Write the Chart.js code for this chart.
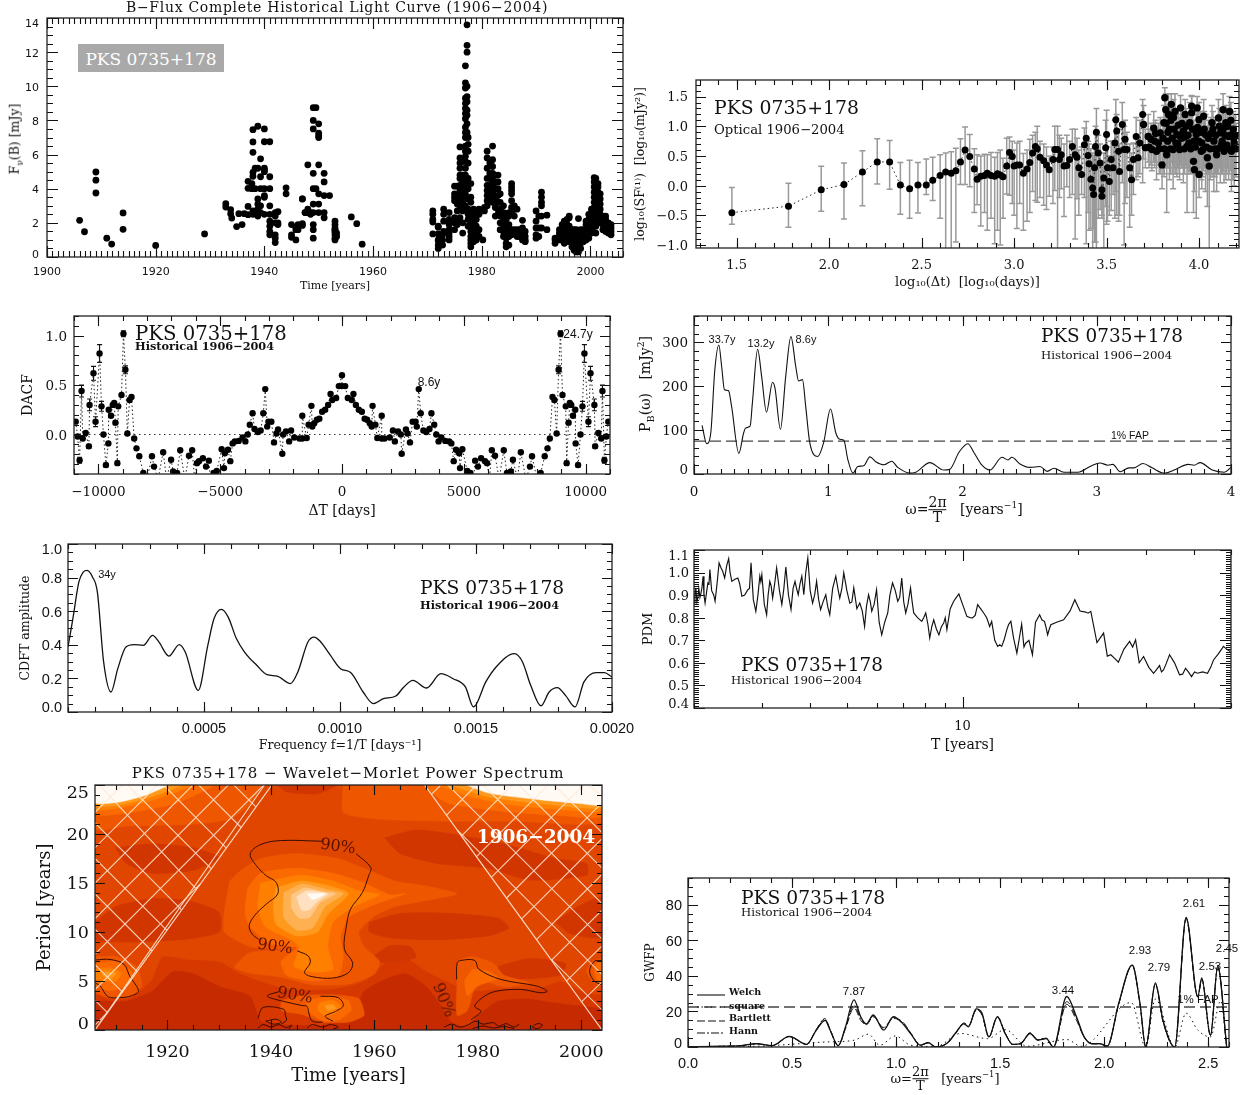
<!DOCTYPE html>
<html><head><meta charset="utf-8">
<script src="https://cdn.jsdelivr.net/npm/chart.js@4"></script>
<style>
html,body{margin:0;padding:0;background:#fff;width:1248px;height:1095px;overflow:hidden}
#page{position:relative;width:1248px;height:1095px}
canvas{position:absolute}
.n{position:absolute;white-space:nowrap;color:#111;font-family:"DejaVu Serif",serif;line-height:1;transform-origin:center}
.n sub{font-size:70%;line-height:0}.n sup{font-size:65%;line-height:0}
.frac{display:inline-block;vertical-align:middle;text-align:center;line-height:1.02}
.frac span{display:block}.frac span:first-child{border-bottom:1px solid #111}
svg.ls{position:absolute;width:28px;height:3px;overflow:visible}
</style></head><body><div id="page"></div>
<script>
/* ---------- light curve: [year, flux, flux, ...] ---------- */
const lightCurve=[
[1906,2.15],[1906.9,1.48],[1909,4.98,4.5,3.75],[1911,1.1],[1911.9,.76],[1914,2.58,1.62],[1920,.68],[1929,1.35],
[1932.9,3.12,2.93],[1933.8,2.77,2.53],[1934,2.28],[1934.9,1.78],[1935.3,2.54],[1935.9,1.9],[1936.3,2.54],[1937,4.43,4.02,2.96,2.48],
[1937.7,4.3,4],[1937.9,7.46,6.74,6.13,4.96,4.73,4.0,2.7,2.5],[1938.3,5.2,4],[1938.8,7.66,5.2,3.4,3.1,2.8,2.6,2.4],[1939.3,5.75,4.7,4,3,2.6],[1940,7.5,6.75,5.2,5.1,5,4,3.6,3.5,2.5],
[1941,6.75,4.7,4,3,2.5,2.1,1.8,1.5,1.3],[1942,2.6,2.4,2,1.3,1.1,.85],[1942.5,2.65,2,1.9],[1944,4.05,3.7],[1945,1.9,1.3,1.15],[1945.8,1,1.6,1.75],[1946.2,1.9,1.6],
[1947,3.4,3.4,1.85,1.95],[1947.5,2.6,2.6],[1948,5.4,2.8,2.6],[1948.5,2.6,2.5],[1949,8.75,8,7.5,4.9,4,3.1,2.6,1.9,1.6,1.1],[1949.5,8.75,4],[1950,7.8,7.25,7.1,7,5.4,3.7,3.1,2.6],
[1951,4.9,4.4,3.6,2.6,2.3],[1952,3.6],[1953,2.1,1.9,1.7,1.55,1.45,1.3,1.1,1,1.6],[1953.3,1.4,1.2],[1956,2.35],[1957,1.95],[1958,.75],
[1971,2.7,2.5,2.2,2.05,1.35],[1972,.5,.7,.95,1,1.35,1.75,1.8],[1972.8,1,.7,1.3],[1973,1.5,2.1,2.5,2.8],[1974,1,1.2,1.4,1.6,1.9,2.2,2.6],
[1975,1.6,2,2.3,3.3,3.5,3.7,4.15],[1975.5,1.9,2.2,2.7,3.1,3.6,3.4,4.15],[1976,2.3,3,3.4,3.6,3.9,4.2,4.6,4.8,5.2,5.5,5.8,6.45],[1976.5,1.4,2,2.7,3,3.2,3.5,3.8,4.1,4.5,4.8,5.6],
[1977,2.8,3,3.4,3.7,4,4.4,4.8,5.2,5.6,5.9,6.2,6.5,7,7.3,7.6,8.1,8.4,8.7,9,9.3,9.9,10.2,11.2],[1977.3,7.3,7.8,8.3,8.6,9.1,9.4,10,12,12.4,13.6],[1977.5,1.8,2.2,2.5,2.8,3.4,4,4.3,4.6,5.5,6.2,6.6,7],
[1978,.6,.8,1,1.2,1.5,1.8,2,2.3,2.7,3.2,3.5,4.3],[1978.5,.9,1.2,1.6,2,2.4,2.8],[1979,1,1.4,1.8,2.2,2.7],[1979.5,1.2,1.6,2.5,2.8],[1980.2,1],[1980.5,2.7,2.9],
[1981,3,3.3,3.6,3.9,4.2,4.6,5.2,5.8,6.2],[1981.5,3.4,3.6,3.9,4.2,4.6,4.9,5.5],[1982,3.2,3.5,3.8,4.2,4.5,4.9,5.3,5.7,6.5],[1982.5,2.4,2.9,3.3,3.6,4,4.4,4.8],[1983,2.5,2.8,3.2,3.6,4,4.4,4.8],
[1983.4,1.6,2,2.4,2.8,3.2,3.7],[1984,1.2,1.5,1.9,2.3,2.6,3],[1984.5,.6,.8,1.1,1.4,1.8,2.2,2.5],[1985,.7,1.2,1.5,1.9,2.4,2.6],[1985.5,1.3,1.6,2.6,2.9,3.3,3.7,3.9,4.1,4.3],[1986,1.6,2.4,2.8,3],
[1986.5,1.2,1.4,1.6,2.8],[1987,1.2,1.4,1.6],[1987.5,1,1.2,1.4,1.7,2.15],[1988,.9,1,1.2,1.5],[1990,1.1,1.3,1.7,2.1,2.7],[1990.5,1.2,1.7,2.4],[1991,1.7,2.4,3,3.2,3.5,3.8],[1992,1.6,2.45],[1993.5,.8,1,1.1],
[1994.3,1,1.2,1.4,1.6],[1994.8,1,1.3,1.5,1.7,1.9],[1995.2,.8,1.1,1.4,1.6,1.8,2.1],[1995.7,1,1.2,1.5,1.9,2.2],[1996.1,.9,1.2,1.5,1.8,2.3,2.4],[1996.6,.6,.8,1,1.2,1.4,1.6],
[1997,.4,.6,.8,1,1.2,1.4,1.6],[1997.4,.3,.5,.7,.9,1.1,1.3,1.6],[1997.8,.3,.5,.7,.9,1.1,1.4,2.25],[1998.2,.5,.8,1,1.3,1.6],[1998.7,.9,1.1,1.4,1.6],[1999.2,1,1.3,1.6,1.9,2.1],[1999.7,1.1,1.4,1.8,2.2,2.5],
[2000.2,1.4,1.7,2,2.3,2.6,2.8],[2000.7,1.8,2,2.3,2.6,2.9,3.2,3.5,3.8,4.1,4.4,4.65],[2001,1.4,1.8,2.2,2.5,2.8,3.1,3.4,3.7,4,4.3,4.6],[2001.4,2,2.3,2.6,2.9,3.2,3.5,3.8,4.1,4.3],[2001.8,2,2.2,2.5,2.8,3.1,3.4,3.7],
[2002.3,1.6,1.9,2.1,2.4],[2002.8,1.5,1.7,1.9,2.2,2.4],[2003.3,1.4,1.6,1.8,2],[2003.8,1.3,1.5,1.7,1.9]];

/* ---------- structure function: [log dt, log SF, upper, lower] ---------- */
const structureFn=[
[1.474,-.455,-.03,-.65],[1.78,-.345,.04,-.7],[1.957,-.07,.325,-.43],[2.08,.02,.38,-.56],[2.18,.23,.59,-.34],[2.26,.4,.79,.03],[2.327,.4,.76,-.06],[2.385,.01,.39,-.48],[2.435,-.05,.43,-.55],[2.48,.01,.39,-.46],[2.525,.01,.45,-.15],[2.56,.09,.48,-.25],[2.6,.17,.52,-.55],[2.63,.23,.55,-1.2],[2.66,.21,.57,-1.2],[2.685,.25,.63,-.95],[2.71,.4,.79,.02],[2.735,.6,.99,.02],[2.76,.49,.86,-.02],[2.785,.28,.62,-.45],[2.8,.11,.52,-.32],
[2.82,.16,.5,-.68],[2.84,.17,.53,-.45],[2.855,.21,.52,-.75],[2.875,.17,.56,-.55],[2.895,.16,.48,-.98],[2.91,.2,.56,-.75],[2.925,.18,.6,-1.0],[2.94,.15,.46,-.55],[2.96,.33,.8,-.14],[2.975,.56,.82,-.16],[2.99,.49,.75,-.3],[3.0,.33,.6,-.5],[3.015,.35,.72,-.72],[3.03,.35,.75,-.3],[3.05,.21,.54,-.75],[3.07,.28,.6,-.6],[3.085,.39,.78,-.45],
[3.10,.55,.85,-.1],[3.115,.66,.9,-.25],[3.125,.62,1.0,-.28],[3.14,.48,.75,-.2],[3.16,.42,.7,-.33],[3.175,.35,.65,-.4],[3.19,.27,.5,-.18],[3.21,.44,.65,-.3],[3.22,.61,1.0,-.08],[3.235,.61,1.0,-1.1],[3.245,.44,.85,-.2],[3.255,.52,.8,-.05],[3.27,.33,.7,-.52],[3.285,.34,.85,-.02],[3.30,.44,.75,-.2],[3.315,.66,.95,-.15],[3.33,.52,.95,-.9],[3.34,.48,.8,-.22],[3.35,.30,.6,-.5],[3.365,.19,.65,-.15],[3.38,.69,.97,-.2],[3.39,.80,1.08,-.98],[3.40,.51,.75,-.45],[3.405,.37,.7,-.75],[3.415,.11,.62,-.72],[3.425,-.04,.55,-1.1],[3.43,-.15,.5,-.72],[3.435,.30,.65,-.95],[3.44,.66,1.0,-.95],[3.445,.90,1.3,-1.2],[3.455,.55,.85,-.55],[3.465,.38,.7,-.4],[3.475,-.07,.4,-.5],[3.475,-.18,.3,-.55],[3.485,.13,.55,-1.05],[3.495,.64,1.1,-.35],[3.50,.86,1.27,-.65],[3.505,.30,.65,-.6],[3.515,.07,.5,-.5],[3.525,.44,.75,-.42],[3.535,.30,.75,-.15],[3.545,.72,1.1,-.55],[3.55,1.11,1.45,-.1],[3.555,.92,1.2,-.5],[3.565,.58,.95,-.6],[3.57,.24,.7,-.5],[3.585,1.03,1.4,.05],[3.595,.61,1.0,-1.0],[3.60,.78,1.1,-.3],[3.61,.61,.9,-.2],[3.625,.30,.7,-.7],[3.635,.10,.55,-.5],[3.645,.44,.72,-.15],[3.66,.83,1.15,.1],[3.67,.47,.8,.15],[3.68,.72,1.1,.2],[3.695,1.20,1.45,.05],[3.70,1.03,1.35,.45],[3.71,.64,.95,.3],[3.725,.83,1.2,.4],[3.745,.61,.95,.25],[3.755,.97,1.25,.4],[3.77,.58,.95,.1],[3.79,.89,1.15,.2],[3.80,.35,.7,-.05],[3.81,1.06,1.35,.15],[3.815,1.48,1.65,.45],[3.82,1.28,1.55,.6],[3.825,.52,.9,-.45],[3.835,1.20,1.55,.55],[3.84,.95,1.3,.1],[3.85,1.37,1.55,.6],[3.86,.61,.95,-.05],[3.87,1.25,1.55,.2],[3.88,.86,1.2,.15],[3.895,.61,1.0,.1],[3.90,1.31,1.52,.35],[3.915,.92,1.2,.05],[3.925,1.20,1.45,.35],[3.935,.66,1.05,-.45],[3.95,1.06,1.4,.25],[3.96,1.34,1.52,.5],[3.96,1.23,1.5,.4],[3.97,.41,.8,-.45],[3.975,.27,.7,-.1],[3.985,.86,1.2,-.55],[3.99,1.31,1.5,.4],[4.0,1.11,1.4,.3],[4.0,.19,.7,-.2],[4.015,.72,1.05,-.05],[4.025,1.17,1.45,.25],[4.035,.86,1.2,-.1],[4.045,.47,.8,-.35],[4.055,.33,.75,-1.1],[4.07,1.06,1.35,.15],[4.08,.75,1.1,-.1],[4.095,.52,.9,-.1],[4.105,1.14,1.45,.2],[4.115,.89,1.2,.05],[4.13,1.28,1.55,.55],[4.135,.58,.95,.05],[4.145,1.06,1.35,.1],[4.16,.83,1.15,.1],[4.165,1.25,1.5,.6],[4.175,.58,1.0,-.1],[4.185,.95,1.25,.1],[4.19,.72,1.1,0],
[3.73,.65,.95,.3],[3.74,.78,1.05,.35],[3.76,.75,1.05,.3],[3.765,.88,1.1,.4],[3.78,.72,1.05,.35],[3.785,.62,.95,.2],[3.805,.8,1.1,.3],[3.812,.62,1.0,.2],[3.822,1.05,1.35,.4],[3.83,.75,1.1,.3],[3.832,.9,1.25,.3],[3.845,.62,.95,.2],[3.848,1.1,1.4,.4],[3.855,.8,1.1,.2],[3.862,1.15,1.45,.4],[3.865,.95,1.2,.3],[3.875,.72,1.05,.2],[3.885,.7,1.05,.3],[3.888,1.02,1.3,.3],[3.892,.85,1.15,.2],[3.905,.8,1.1,.3],[3.908,1.05,1.3,.3],[3.92,.62,.95,.2],[3.922,.82,1.1,.2],[3.93,1.0,1.3,.3],[3.94,.85,1.15,.3],[3.945,.72,1.05,.2],[3.955,.62,1.0,.2],[3.965,.95,1.25,.3],[3.972,.75,1.1,.25],[3.98,.65,1.0,.2],[3.992,.98,1.25,.3],[3.998,.75,1.1,.25],[4.01,.9,1.25,.3],[4.012,.58,.95,.1],[4.02,.6,.95,.15],[4.028,.95,1.25,.3],[4.04,.65,1.0,.2],[4.05,.8,1.1,.2],[4.06,.62,1.0,.1],[4.065,.88,1.15,.2],[4.075,.95,1.25,.3],[4.085,.62,1.0,.15],[4.09,.85,1.15,.2],[4.1,.62,1.0,.2],[4.11,1.0,1.3,.3],[4.12,.68,1.05,.2],[4.125,.75,1.1,.2],[4.13,.95,1.25,.25],[4.14,.85,1.2,.3],[4.15,.68,1.05,.2],[4.155,1.0,1.3,.3],[4.162,.62,1.0,.2],[4.17,.85,1.15,.25],[4.172,1.1,1.4,.5],[4.18,.62,1.0,.1],[4.188,.8,1.15,.2],[4.195,.85,1.2,.15],[4.2,.62,1.05,.15]];

/* ---------- DACF, positive lags: [lag, dacf, error] (symmetric about zero) ---------- */
const dacfLags=[
[130,.49,0],[240,.37,0],[400,.35,0],[470,.41,0],[570,.3,0],[690,.25,0],[815,.23,0],[930,.16,0],[1030,.15,0],[1140,.115,0],[1220,.08,0],[1255,.29,0],[1370,.1,0],[1450,-.035,0],[1630,.19,0],[1630,-.04,0],[1745,-.04,0],[1960,-.03,0],[2090,.04,0],[2170,-.07,0],[2300,.03,0],[2415,0,0],[2450,-.195,0],[2625,.05,0],[2690,.01,0],[2790,-.08,0],[2900,.13,0],[3020,.13,0],[3070,.08,0],[3150,.46,0],[3230,.215,0],[3340,.04,0],[3460,.025,0],[3590,.055,0],[3670,.215,0],[3785,.1,0],[3870,0,0],[3965,-.07,0],[4080,-.03,0],[4240,-.065,0],[4400,-.07,0],[4490,-.09,0],[4585,-.27,0],[4680,-.155,0],[4810,-.19,0],[4845,-.34,0],[4940,-.15,0],[5140,-.37,0],[5270,-.39,0],[5400,-.45,0],[5465,-.265,0],[5580,-.325,0],[5710,-.24,0],[5870,-.27,0],[5955,-.29,0],[6050,-.45,0],[6150,-.16,0],[6280,-.215,0],[6450,-.45,0],[6640,-.16,0],[6770,-.39,0],[6930,-.375,0],[7015,-.255,0],[7200,-.45,0],[7340,-.18,0],[7550,-.45,0],[7715,-.325,0],[7800,-.22,0],[8000,-.45,0],[8155,-.39,0],[8320,-.22,0],[8435,-.14,0],[8530,-.04,0],[8640,.38,.01],[8720,.35,.01],[8810,.01,0],[8890,.655,.04],[8970,1.02,.03],[9050,.4,0],[9185,.285,0],[9220,-.29,.02],[9300,.12,.02],[9350,.32,0],[9410,.3,0],[9480,.19,0],[9575,.25,0],[9590,-.09,0],[9690,-.31,.02],[9790,0,0],[9870,.285,.05],[9950,.82,.09],[10115,.13,.05],[10200,.62,.07],[10360,.3,.06],[10390,-.12,.02],[10520,.015,0],[10640,-.04,0],[10690,.44,.06],[10770,-.26,.03],[10850,-.02,0],[10930,.13,0]];
const dacfZeroLag=[[0,.6,0],[0,.49,0]];

/* ---------- periodogram ---------- */
const pgOmega=[.06,.095,.125,.155,.185,.206,.227,.257,.28,.334,.37,.385,.418,.435,.474,.504,.54,.585,.603,.644,.683,.722,.758,.779,.808,.832,.862,.922,.966,1.017,1.056,1.086,1.116,1.145,1.184,1.22,1.265,1.31,1.354,1.414,1.473,1.518,1.608,1.652,1.757,1.861,1.906,1.975,2.04,2.085,2.145,2.204,2.294,2.339,2.368,2.428,2.503,2.577,2.631,2.682,2.756,2.861,2.95,3.025,3.084,3.12,3.174,3.24,3.278,3.344,3.412,3.502,3.591,3.681,3.726,3.77,3.86,3.95,4];
const pgPower=[111,69,94,237,294,245,192,190,154,47,94,105,109,162,284,222,141,209,196,102,222,313,245,212,215,154,72,40,72,148,94,79,77,34,2,17,19,39,28,21,29,15,2,4,26,9,11,50,69,49,20,9,38,32,38,23,15,17,6,13,4,4,17,25,20,22,5,14,14,24,14,2,11,22,20,26,9,4,15];
const pgFap=75;

/* ---------- CDFT ---------- */
const cdftFreq=[0,.000018,.00004,.000056,.00007,.00009,.000108,.000131,.000158,.000183,.000213,.000243,.000277,.000311,.000334,.000371,.000409,.000431,.000479,.000514,.000537,.000564,.000589,.000619,.000649,.000694,.000732,.000769,.000818,.000845,.000882,.000905,.000927,.000965,.001002,.00104,.001085,.001123,.00116,.001205,.001235,.001268,.001318,.001371,.001416,.001461,.001491,.001536,.001574,.001641,.001671,.001701,.001739,.001769,.001799,.001829,.001864,.001897,.001942,.001972,.002];
const cdftAmp=[.387,.556,.774,.833,.843,.804,.714,.298,.119,.258,.387,.401,.397,.456,.417,.333,.401,.357,.129,.397,.556,.611,.565,.437,.357,.278,.222,.214,.169,.238,.417,.446,.421,.337,.258,.234,.119,.05,.079,.095,.149,.188,.143,.228,.198,.149,.03,.179,.268,.347,.298,.159,.036,.119,.145,.099,.03,.179,.234,.234,.208];

/* ---------- PDM ---------- */
const pdmLogT=[.3018,.3059,.3111,.3184,.3247,.3299,.3372,.3424,.3559,.3663,.3757,.3809,.3913,.3996,.4152,.4256,.4412,.4495,.462,.4724,.4776,.4901,.4984,.5057,.5161,.5297,.5401,.5536,.564,.5723,.5817,.5869,.5973,.6098,.6202,.6306,.6441,.6545,.6701,.6805,.6909,.7066,.717,.7326,.7451,.7555,.7638,.7763,.7898,.8054,.8179,.8314,.8418,.8522,.8647,.873,.8939,.9043,.9147,.9251,.9386,.9511,.9594,.9771,.9906,1.0114,1.026,1.0395,1.0552,1.0708,1.076,1.0916,1.102,1.1155,1.1259,1.1415,1.154,1.1644,1.1821,1.2008,1.2133,1.2216,1.23,1.2633,1.2924,1.3205,1.334,1.3673,1.3861,1.4058,1.435,1.4506,1.4714,1.4974,1.513,1.5234,1.539,1.565,1.5806,1.5963,1.6119,1.6379,1.6535,1.6795,1.6972];
const pdmTheta=[.865,.932,.887,.902,.984,.865,.954,1.013,.873,1.043,1.006,.976,1.062,.961,.976,.895,.924,1.043,.828,.984,.991,.813,.961,.887,1.021,.858,1.025,.836,.961,.902,.984,.902,1.065,.865,.961,.836,.902,.813,.984,.887,.999,.865,.932,.865,.761,.902,.828,.924,.724,.821,.954,.873,.976,.821,.932,.821,.784,.821,.71,.791,.724,.776,.747,.873,.905,.806,.799,.858,.821,.761,.784,.673,.673,.747,.784,.643,.772,.687,.636,.813,.784,.724,.769,.791,.88,.825,.828,.732,.636,.603,.695,.702,.628,.554,.588,.569,.636,.547,.576,.539,.554,.554,.613,.673,.65];
const pdmLogTFine=[.3035,.3085,.3135,.3165,.3215,.327,.3335,.34,.347,.3525,.361,.3715,.3785,.386,.395,.4075,.42,.433,.4455,.4555,.4675,.475,.484,.494,.502,.511,.5235,.535,.547,.559,.568,.577,.5845,.592,.6035,.615,.6255,.637,.649,.662,.6755,.686,.699,.712,.725,.739,.75,.76,.77,.783,.7975,.811,.825,.8365,.847,.858,.869,.883,.899,.91,.92,.932,.945,.955,.968,.984,1.0,1.02,1.033,1.047,1.063,1.084,1.097,1.108,1.12,1.133,1.148,1.16,1.173,1.19,1.207,1.217,1.226,1.245,1.28,1.306,1.327,1.35,1.377,1.396,1.42,1.443,1.46,1.485,1.505,1.518,1.531,1.552,1.573,1.588,1.604,1.625,1.646,1.666,1.688];
const pdmThetaFine=[.90,.87,.93,.89,.93,.90,.91,.95,.92,.90,.95,1.02,.99,1.03,1.0,.97,.95,.90,.93,.88,.90,.96,.86,.90,.94,.95,.92,.93,.90,.93,.93,.95,.94,1.0,.92,.90,.88,.87,.85,.93,.93,.93,.92,.87,.84,.83,.85,.87,.86,.78,.78,.90,.92,.89,.87,.86,.87,.80,.80,.77,.76,.75,.76,.80,.84,.89,.86,.80,.81,.84,.80,.70,.68,.70,.77,.71,.71,.67,.70,.78,.79,.76,.75,.78,.83,.83,.82,.69,.63,.62,.66,.67,.60,.58,.57,.56,.60,.60,.55,.56,.56,.56,.58,.64,.66];

/* ---------- wavelet power: filled contour outlines [year, period] ---------- */
const wvField=[[1906,0],[2004,0],[2004,25.1],[1906,25.1]];
const wvLevel1=[[1906,3],[1912,3],[1917,4],[1921,6],[1925,5.8],[1930,4.5],[1936,3.5],[1938,1],[1940,.6],[1946,.5],[1950,.5],[1956,2],[1958,4],[1962,5.2],[1966,5.8],[1970,4.5],[1973,2.5],[1975,.8],[1978,.4],[1980,1.5],[1984,3],[1990,3.2],[1995,2.8],[2000,2.5],[2004,2.5],[2004,25.1],[1906,25.1]];
const wvLevel2=[[1906,3.6],[1914,3.8],[1917,5.2],[1919,7.5],[1924,7.2],[1930,7],[1934,5.8],[1938,5],[1943,4.2],[1952,4.2],[1958,5],[1962,6.8],[1966,7.4],[1970,6],[1974,5],[1978,4],[1984,4.2],[1992,4.3],[1996,5],[2000,4],[2004,3.8],[2004,25.1],[1906,25.1]];
const wvDark=[
[[1910,18.6],[1917,19],[1925,18.6],[1930,17.6],[1925,16.3],[1917,16],[1912,17]],
[[1906,11],[1910,12.6],[1917,13.4],[1924,13.2],[1930,12],[1930,10],[1924,9.3],[1915,9],[1906,9.2]],
[[1937,7.4],[1941,7.6],[1944,7.2],[1943,6.8],[1939,6.7],[1937,7]],
[[1959,11],[1965,11.9],[1975,11.9],[1984,11.4],[1986,10.4],[1982,9.6],[1972,9.2],[1963,9.4],[1959,10]],
[[1960,7.6],[1963,8.6],[1967,8.5],[1968,7.4],[1964,7],[1960,6.9]],
[[1962,19.6],[1968,20.4],[1975,20],[1985,19],[1995,17.5],[2001,17],[2001,15.8],[1990,15.3],[1982,16.5],[1972,17],[1965,18]],
[[1984,6.5],[1990,7.3],[1997,6.8],[1996,5.6],[1988,5.2],[1984,5.7]],
[[1995,11],[1999,12.5],[2004,13.5],[2004,9.5],[1998,9.8]],
[[1941,25.1],[1943,24.3],[1949,24.1],[1953,25.1]]];
const wvLevel3=[
[[1906,25.1],[1906,20.5],[1912,20.8],[1925,21],[1932,21.5],[1936,23],[1938,25.1]],
[[1954,25.1],[1954,22.2],[1961,21.5],[1974,21.3],[1987,21.3],[2004,21.2],[2004,25.1]],
[[1932,15.2],[1934,16.2],[1938,17.5],[1945,18],[1953,17.5],[1958,16.5],[1964,15.2],[1970,14.7],[1976,13.9],[1970,13.2],[1964,12.6],[1960,11.6],[1957,10],[1958,8.5],[1961,7],[1960,5.7],[1955,4.7],[1948,4.6],[1942,5.4],[1936,5.8],[1933,6.4],[1936,7.9],[1944,8.2],[1936,8.5],[1931,10],[1931,12]],
[[1942,3],[1946,3.5],[1952,3.6],[1957,3.2],[1958,1.5],[1955,.8],[1950,.8],[1946,1.6],[1942,2]],
[[1906,7.5],[1910,7.5],[1914,6.5],[1915,4.5],[1913,3.4],[1909,3.2],[1906,4]],
[[2001,6],[2002,7],[2004,7.2],[2004,4.5],[2002,5]],
[[1976,5],[1976,7],[1979,7.5],[1983,6.8],[1985,5.6],[1990,4.8],[1985,4.4],[1980,5],[1978,2],[1976,1.5]]];
const wvLevel4=[
[[1906,25.1],[1906,22],[1914,22.3],[1922,23.2],[1929,25.1]],
[[1969,25.1],[1974,23.2],[1985,22.3],[1996,21.9],[2004,21.8],[2004,25.1]],
[[1935.5,14.5],[1938,16],[1945,16.5],[1952,16],[1958,15],[1963,13.8],[1966,13.9],[1960,12.8],[1955,11.5],[1953.5,9.5],[1954,7.5],[1953,5.5],[1948,5],[1943,5.6],[1942,7],[1945,8.4],[1940,8.8],[1936,10.5],[1935,12]],
[[1947,3],[1951,3.4],[1955,3],[1955.5,2],[1953,1],[1950,1],[1947,2]],
[[1906,6.8],[1910,7],[1913,6],[1913,4.8],[1909,4],[1906,4.6]],
[[2002.5,6],[2003,6.8],[2004,6.9],[2004,5],[2003,5.2]],
[[1979,6.2],[1982,6],[1984,5.3],[1980,4.5],[1978,3.5],[1977.5,5]]];
const wvLevel5=[
[[1906,25.1],[1906,22.5],[1912,22.8],[1918,23.6],[1925,25.1]],
[[1972,25.1],[1978,23.9],[1986,23],[1996,22.5],[2004,22.4],[2004,25.1]],
[[1938,15],[1946,15.8],[1952,15.2],[1957,14.2],[1961,13.8],[1956,12.6],[1952,11],[1951,8.5],[1952,6.2],[1948.5,5.9],[1944.5,6.5],[1945.5,8.4],[1944,9.2],[1939,10.5],[1937.5,12.5]],
[[1949.5,2.8],[1952,3],[1953.5,2.4],[1952,1.6],[1950,1.6],[1949,2.2]],
[[1906,6.2],[1909,6.3],[1911,5.8],[1910,5],[1906,5.2]]];
const wvLevel6=[
[[1941,14.5],[1946,15.2],[1952,14.6],[1955,13.9],[1951,11.8],[1949,10],[1945,9.6],[1941,10.8],[1940.5,12.8]],
[[1950.5,2.5],[1952,2.6],[1952.5,2.2],[1951,2]],
[[1908,6],[1910,5.8],[1909,5.2],[1907.5,5.6]],
[[1906,25.1],[1906,22.9],[1911,23],[1917,23.8],[1923,25.1]],
[[1974,25.1],[1982,23.8],[1992,23.1],[2004,22.7],[2004,25.1]]];
const wvLevel7=[
[[1942.5,14],[1946,14.9],[1951,14.3],[1954,13.9],[1950.5,12.6],[1948,10.4],[1945,10.2],[1942.5,11.5]]];
const wvLevel8=[
[[1944,13.8],[1946.5,14.5],[1950,14.1],[1952.5,13.9],[1949.5,13],[1947.5,11.5],[1945.5,11.4],[1944,12.5]]];
const wvLevel9=[
[[1945,13.6],[1947,14.2],[1951,13.9],[1949,13.1],[1947.5,12.3],[1946,12.2]]];
const wvLevel10=[
[[1947,13.9],[1950.5,13.9],[1948,13.3]],
[[1906,25.6],[1906,23.2],[1911,23.3],[1916,24],[1922,25.6]],
[[1975,25.6],[1982,24.2],[1992,23.5],[2000,23.1],[2004,23],[2004,25.6]]];
const wvLevelColors=["#c62a00","#d63800","#e04600","#d23600","#ee5600","#fb6a00","#ff8000","#ff9a1e","#ffb050","#ffc888","#ffe0c0","#fffaf4"];
const wvContours=[
[[1950,19.26],[1941.8,19.33],[1937.9,18.9],[1936,17.97],[1937.2,16.77],[1939.1,15.75],[1941,15.07],[1941.3,13.87],[1939.1,12.85],[1936.8,11.65],[1935.8,10.63],[1936.4,9.78],[1937.6,9.26]],
[[1945.1,8.07],[1947.2,7.56],[1947.6,6.87],[1946.5,5.85],[1948,5.44],[1951.9,5.3],[1955,5.85],[1955.8,6.87],[1954.2,8.24],[1954.6,10.63],[1955.4,12.34],[1957.7,14.04],[1958.9,15.75],[1959.3,16.6],[1956.5,17.97]],
[[1906.2,7.15],[1908.9,7.2],[1911.6,6.7],[1912.7,5.5],[1914.4,4],[1913.1,3.5],[1910.8,3.3],[1908.5,3.4],[1907,4.5],[1906.2,4.75]],
[[2004,7.1],[2002.5,7],[2001.6,6],[2002.5,5],[2004,4.6]],
[[1941.8,3.95],[1939.3,3.46],[1943,2.85],[1946,2.5],[1947,2.4],[1947.3,1.8],[1948,.9],[1950,.8]],
[[1949.6,3.45],[1953,3.3],[1954,2.5],[1952.5,1.9],[1950.5,1.4],[1952,.9]],
[[1937.5,1.2],[1938.5,2.3],[1942.5,2.1],[1942.8,1.5],[1943,1],[1942,.6]],
[[1939,.9],[1941,1.1],[1942,.8],[1940.5,.6],[1939,.9]],
[[1937.5,.2],[1938.5,.55],[1940,.3],[1941.5,.55],[1943,.25],[1944,.5],[1943.5,.1]],
[[1947,.2],[1948,.55],[1950,.3],[1951.5,.55],[1953,.3],[1952,.1]],
[[1975.9,5.17],[1976,6.87],[1976.7,7.1],[1979.4,7.1],[1980.2,6.2],[1984.4,5.17],[1991.4,4.48],[1993.4,3.97],[1992.2,3.8],[1988.3,4.14],[1983.7,3.97],[1981.3,3.46],[1979.4,2.43],[1980.6,1.9],[1978.7,1.05]],
[[1973.5,.3],[1975,.6],[1976.5,.3],[1978,.5],[1979.5,.9],[1981,.6],[1983,.75],[1984,.4],[1985.5,.65],[1987,.3],[1988,.6]],
[[1979,.15],[1981,.4],[1983,.2],[1985,.35],[1987,.15]],
[[1990.5,.3],[1991.5,.65],[1992.5,.5],[1991.5,.15],[1990.5,.3]]];
const wvCone=[[1906,0,1940.2,25.02],[1906,0,1938.8,25.02],[1969.7,25.02,2004,0],[1976,20.4,2004,0]];
const wvHatch=[
[1906,22.22,1911.3,25.02],[1906,18.6,1918.1,25.02],[1906,15,1924.96,25.02],[1906,11.37,1931.8,25.02],[1906,7.75,1938.65,25.02],[1906,4.13,1926.3,14.88],[1906,.51,1908.45,1.81],
[1906,21.13,1922.7,12.29],[1906,17.51,1919.9,10.17],[1906,13.89,1917,8.06],[1906,10.28,1914.1,5.98],[1906,6.66,1911.3,3.86],[1906,3.04,1908.4,1.78],[1906.8,25.02,1925.6,14.37],[1912.3,25.02,1928.4,16.5],[1919.2,25.02,1931.4,18.57],[1926,25.02,1934.2,20.69],[1932.8,25.02,1937.1,22.77],
[1971.04,24.05,1972.88,25.02],[1973.95,21.93,1979.78,25.02],[1976.85,19.82,1986.68,25.02],[1979.75,17.7,1993.59,25.02],[1982.66,15.59,2000.49,25.02],[1985.56,13.47,2004,23.18],[1988.46,11.35,2004,19.52],[1991.37,9.24,2004,15.87],[1994.27,7.12,2004,12.22],[1997.17,5.01,2004,8.57],[2000.08,2.89,2004,4.92],
[2001.5,25.02,2004,23.76],[1994.68,25.02,2004,20.14],[1987.84,25.02,2004,16.52],[1981,25.02,2004,12.9],[1974.2,25.02,2004,9.29],[1976,20.41,2004,5.67],[1994.2,7.2,2004,2.05]];

/* ---------- GWFP ---------- */
const gwOmega=[0,.144,.237,.33,.404,.487,.57,.617,.659,.681,.722,.756,.798,.83,.857,.89,.94,.987,1.033,1.07,1.117,1.154,1.19,1.246,1.283,1.326,1.348,1.385,1.413,1.446,1.487,1.524,1.561,1.598,1.644,1.681,1.722,1.756,1.82,1.867,1.904,1.941,1.978,2.015,2.07,2.135,2.172,2.2,2.246,2.283,2.339,2.394,2.45,2.469,2.511,2.546,2.589];
const gwWelch=[0,.4,.6,1.9,.8,6,1.5,9.5,15,10,.8,11,26.5,17,13,18,9.5,17,13,7.5,1,2.5,0,2.3,7.5,13,11.3,21.4,19,5.7,17,7.6,1.5,1.9,7.5,3.8,4.7,0,28.4,17,5.7,1.9,1.9,.5,24.6,46,24.6,0,36,15,0,72.8,28.4,38.8,6.6,45.4,0];
const gwBartlett=[0,.4,.5,1.7,.7,5.8,1.4,10,16,10.5,.7,10,22,15,12.5,17,11,16,14,8,1,2.3,0,2.1,7,13.5,12,20.5,18,5.5,17,8,1.4,1.7,8,4.2,5,0,24,15,5.5,1.8,1.8,.5,24,46,24,0,35,14,0,72,28,38,6.4,45,0];
const gwHann=[0,.4,.5,1.8,.7,5.9,1.4,9.8,15.5,10.2,.7,10.5,23.5,16,12.8,17.5,10.5,16.5,13.5,7.8,1,2.4,0,2.2,7.2,13.2,11.6,20.8,18.4,5.6,17,7.8,1.4,1.8,7.8,4,4.8,0,25.5,16,5.6,1.8,1.8,.5,24.3,46,24.3,0,35.5,14.5,0,72.4,28.2,38.4,6.5,45.2,0];
const gwSquareOmega=[0,.33,.66,.798,.867,.922,.996,1.07,1.19,1.31,1.44,1.524,1.63,1.82,1.89,2.13,2.2,2.246,2.339,2.394,2.45,2.511,2.56,2.589];
const gwSquare=[0,.4,2.8,3.8,7.2,1,6.2,1,.2,7.6,4.7,9.8,.4,4.2,.4,25,0,27,0,19,9.5,5.7,26,0];
const gwFap=22.5;

/* ---------- helpers ---------- */
const page=document.getElementById('page');
const SERIF='"DejaVu Serif",serif', SANS='"DejaVu Sans",sans-serif', LIB='"Liberation Sans",sans-serif';
const seq=(a,b,s)=>{const r=[];for(let v=a;v<=b+s*1e-6;v+=s)r.push(+v.toFixed(8));return r;};
const pts=(xs,ys)=>xs.map((x,i)=>({x,y:ys[i]}));
const pairs=a=>a.map(p=>({x:p[0],y:p[1]}));
const segs=a=>{const o=[];a.forEach(s=>{o.push({x:s[0],y:s[1]},{x:s[2],y:s[3]},{x:NaN,y:NaN});});return o;};

function note(html,x,y,size,opt={}){
  const d=document.createElement('div');d.className='n';d.innerHTML=html;
  d.style.fontSize=size+'px';d.style.left=x+'px';d.style.top=y+'px';
  if(opt.font)d.style.fontFamily=opt.font;if(opt.color)d.style.color=opt.color;if(opt.bold)d.style.fontWeight='bold';
  if(opt.ls)d.style.letterSpacing=opt.ls+'px';
  const ax=opt.left?'0':'-50%';
  d.style.transform=`translate(${ax},-50%)`+(opt.rot?` rotate(${opt.rot}deg)`:'');
  if(opt.left)d.style.transformOrigin='left center';
  page.appendChild(d);
}

function panel(c){
  const [l,t,r,b]=c.box, gl=c.gl, gb=c.gb, pt=8, pr=22;
  const cv=document.createElement('canvas');
  cv.width=r-l+gl+pr;cv.height=b-t+gb+pt;
  cv.style.left=(l-gl)+'px';cv.style.top=(t-pt)+'px';cv.style.width=cv.width+'px';cv.style.height=cv.height+'px';
  page.appendChild(cv);
  const idl={id:'idl',
    beforeDraw(ch){
      if(ch.$edge)return;ch.$edge=1;
      const s=c.yEdge||[0,0],it=ch.scales.y.getLabelItems();
      it.forEach(i=>{i.options.translation[1]+=1.5;});
      if(it.length){it[0].options.translation[1]+=s[0];it[it.length-1].options.translation[1]+=s[1];}
    },
    beforeDatasetsDraw(ch){
      if(!c.err)return;const g=ch.ctx,a=ch.chartArea,X=ch.scales.x,Y=ch.scales.y;
      g.save();g.beginPath();g.rect(a.left,a.top,a.width,a.height);g.clip();
      g.strokeStyle=c.err.color;g.lineWidth=c.err.width||1;
      c.err.rows.forEach(e=>{const x=X.getPixelForValue(e[0]),h=Y.getPixelForValue(e[1]),o=Y.getPixelForValue(e[2]),k=c.err.cap;
        g.beginPath();g.moveTo(x,h);g.lineTo(x,o);g.moveTo(x-k,h);g.lineTo(x+k,h);g.moveTo(x-k,o);g.lineTo(x+k,o);g.stroke();});
      g.restore();
    },
    afterDatasetsDraw(ch){
      const g=ch.ctx,a=ch.chartArea,X=ch.scales.x,Y=ch.scales.y,lw=c.tickW||1.1;
      g.save();g.strokeStyle='#111';g.lineWidth=lw;
      const maj=c.majLen||9,mn=c.minLen||5;
      const vt=(v,n)=>{const p=Math.round(X.getPixelForValue(v))+.5;g.beginPath();g.moveTo(p,a.bottom);g.lineTo(p,a.bottom-n);g.moveTo(p,a.top);g.lineTo(p,a.top+n);g.stroke();};
      const ht=(v,n)=>{const p=Math.round(Y.getPixelForValue(v))+.5;g.beginPath();g.moveTo(a.left,p);g.lineTo(a.left+n,p);g.moveTo(a.right,p);g.lineTo(a.right-n,p);g.stroke();};
      (c.xMin||[]).forEach(v=>vt(v,mn));c.xTicks.forEach(v=>vt(v,maj));
      (c.yMin||[]).forEach(v=>ht(v,mn));c.yTicks.forEach(v=>ht(v,maj));
      g.lineWidth=c.boxW||1.3;g.strokeStyle='#222';g.strokeRect(a.left,a.top,a.width,a.height);
      g.restore();
    }};
  const noPad=s=>{s.paddingTop=s.paddingBottom=s.paddingLeft=s.paddingRight=0;};
  const mk=(tick,vals,dec,title,font,pad,tpad,fit,extra)=>Object.assign({
    type:'linear',grid:{display:false,drawTicks:false},border:{display:false},
    afterBuildTicks:s=>{s.ticks=vals.map(v=>({value:v}));},
    ticks:{font,color:'#111',padding:pad,autoSkip:false,maxRotation:0,minRotation:0,callback:v=>dec(v)},
    title:{display:!!title,text:title,font:tick,color:'#111',padding:tpad},
    afterFit:s=>{fit(s);noPad(s);}},extra||{});
  return new Chart(cv,{type:'scatter',data:{datasets:c.ds.slice().reverse()},plugins:[idl],options:{
    responsive:false,animation:false,events:[],devicePixelRatio:1,
    layout:{padding:{top:pt,right:pr,left:0,bottom:0}},
    plugins:{legend:{display:false},tooltip:{enabled:false}},
    scales:{
      x:mk(c.xTitleFont,c.xTicks,c.xFmt,c.xTitle,c.xFont,c.xPad||4,c.xTPad||{top:0,bottom:0},s=>{s.height=gb;},Object.assign({min:c.x[0],max:c.x[1]},c.xType?{type:c.xType}:{})),
      y:mk(c.yTitleFont,c.yTicks,c.yFmt,c.yTitle,c.yFont,c.yPad||5,c.yTPad||{top:0,bottom:0},s=>{s.width=gl;},{min:c.y[0],max:c.y[1]})
    }}});
}
const dotLine=(data,o={})=>Object.assign({data,showLine:true,pointRadius:0,borderColor:'#111',borderWidth:1.2,fill:false,tension:0},o);
const F=(fam,size,w)=>({family:fam,size,weight:w||'normal'});
const dec=n=>v=>(+v).toFixed(n).replace('-','\u2212');

/* ---------- panel 1: light curve ---------- */
const lcPts=[];lightCurve.forEach(r=>r.slice(1).forEach(f=>lcPts.push({x:r[0],y:f})));
panel({box:[47,18,623,257],gl:47,gb:36,x:[1900,2006],y:[0,14],
  xTicks:seq(1900,2000,20),xMin:seq(1900,2006,1),yTicks:seq(0,14,2),yMin:seq(0,14,.5),yEdge:[-3,5],majLen:11,minLen:6,
  xFmt:dec(0),yFmt:dec(0),xFont:F(SANS,11),yFont:F(SANS,11),xPad:9,yPad:8,
  xTitle:'Time [years]',xTitleFont:F(SERIF,11),
  ds:[{data:lcPts,pointRadius:3.4,pointBackgroundColor:'#000',pointBorderWidth:0}]});
note('B\u2212Flux Complete Historical Light Curve (1906\u22122004)',337,7,14,{ls:.7});
const bx=document.createElement('div');bx.style.cssText='position:absolute;left:78px;top:44px;width:146px;height:28px;background:#a9a9a9;z-index:2';page.appendChild(bx);
note('PKS 0735+178',151,59,17,{color:'#fff'});page.lastChild.style.zIndex=3;
note('F<sub>\u03bd</sub>(B) [mJy]',15,139,12.5,{rot:-90});

/* ---------- panel 2: structure function ---------- */
panel({box:[696,80,1239,248],gl:63,gb:42,x:[1.28,4.216],y:[-1.05,1.78],
  xTicks:seq(1.5,4,.5),xMin:seq(1.3,4.2,.1),yTicks:seq(-1,1.5,.5),yMin:seq(-1,1.75,.1),majLen:10,minLen:5,
  xFmt:dec(1),yFmt:dec(1),xFont:F(SERIF,13),yFont:F(SERIF,13),xPad:10,yPad:8,
  xTitle:'log\u2081\u2080(\u0394t)  [log\u2081\u2080(days)]',xTitleFont:F(SERIF,13),
  yTitle:'log\u2081\u2080(SF\u207d\u00b9\u207e)  [log\u2081\u2080(mJy\u00b2)]',yTitleFont:F(SERIF,12.5),
  err:{color:'#999',cap:3,width:1.5,rows:structureFn.map(r=>[r[0],r[2],r[3]])},
  ds:[{data:structureFn.filter(r=>r[0]>=3.7).map(r=>({x:r[0],y:r[1]})),pointRadius:3.7,pointBackgroundColor:'#000',pointBorderWidth:0},
      {data:structureFn.filter(r=>r[0]<3.7).map(r=>({x:r[0],y:r[1]})),showLine:true,borderColor:'#222',borderWidth:1,borderDash:[1.5,3],pointRadius:3.5,pointBackgroundColor:'#000',pointBorderWidth:0}]});
note('PKS 0735+178',714,108,18.8,{left:1});
note('Optical 1906\u22122004',714,130,13.2,{left:1});

/* ---------- panel 3: DACF ---------- */
const dacfAll=dacfLags.slice().reverse().map(r=>[-r[0],r[1],r[2]]).concat(dacfZeroLag,dacfLags);
panel({box:[74,316,610,474],gl:54,gb:46,x:[-11000,11000],y:[-.4,1.2],
  xTicks:seq(-10000,10000,5000),xMin:seq(-11000,11000,1000),yTicks:seq(0,1,.5),yMin:seq(-.4,1.2,.1),majLen:10,minLen:5,
  xFmt:dec(0),yFmt:dec(1),xFont:F(SERIF,13.5),yFont:F(SERIF,13.5),xPad:10,yPad:7,
  xTitle:'\u0394T [days]',xTitleFont:F(SERIF,14),yTitle:'DACF',yTitleFont:F(SERIF,14),
  err:{color:'#111',cap:2.5,width:1.1,rows:dacfAll.filter(r=>r[2]).map(r=>[r[0],r[1]+r[2],r[1]-r[2]])},
  ds:[dotLine([{x:-11000,y:0},{x:11000,y:0}],{borderWidth:1,borderDash:[1.5,3.5],borderColor:'#333'}),
      dotLine(dacfAll.map(r=>({x:r[0],y:r[1]})),{borderWidth:1,borderDash:[1.5,2.5],borderColor:'#222',pointRadius:3.2,pointBackgroundColor:'#000',pointBorderWidth:0})]});
note('PKS 0735+178',135,334,19.7,{left:1});
note('Historical 1906\u22122004',135,347,11.3,{left:1,bold:1});
note('24.7y',578,334,12,{font:LIB});note('8.6y',429,382,12,{font:LIB});

/* ---------- panel 4: periodogram ---------- */
panel({box:[694,316,1231,474],gl:60,gb:42,x:[0,4],y:[0,360],
  xTicks:seq(0,4,1),xMin:seq(0,4,.1),yTicks:seq(0,300,100),yMin:seq(0,360,20),yEdge:[-5,0],majLen:10,minLen:5,
  xFmt:dec(0),yFmt:dec(0),xFont:F(SERIF,13.5),yFont:F(SERIF,13.5),xPad:10,yPad:6,
  ds:[dotLine([{x:0,y:pgFap},{x:4,y:pgFap}],{borderWidth:1.3,borderDash:[11,5],borderColor:'#444'}),
      dotLine(pts(pgOmega,pgPower),{cubicInterpolationMode:'monotone',borderWidth:1.1})]});
note('P<sub>B</sub>(\u03c9)&nbsp;&nbsp; [mJy<sup>2</sup>]',645,384,14,{rot:-90});
note('\u03c9=<span class="frac"><span>2\u03c0</span><span>T</span></span>&nbsp;&nbsp; [years<sup>\u22121</sup>]',964,510,14);
note('33.7y',722,339,11,{font:LIB});note('13.2y',761,343,11,{font:LIB});note('8.6y',806,339,11,{font:LIB});note('1% FAP',1130,435,10.5,{font:LIB});
note('PKS 0735+178',1041,336,18.4,{left:1});
note('Historical 1906\u22122004',1041,356,11.7,{left:1});

/* ---------- panel 5: CDFT ---------- */
panel({box:[68,544,612,712],gl:50,gb:41,x:[0,.002],y:[0,1],
  xTicks:seq(.0005,.002,.0005),xMin:seq(0,.002,.0001),yTicks:seq(0,1,.2),yMin:seq(0,1,.05),yEdge:[-6,4],majLen:10,minLen:5,
  xFmt:dec(4),yFmt:dec(1),xFont:F(LIB,14.5),yFont:F(LIB,14.5),xPad:8,yPad:6,
  xTitle:'Frequency f=1/T [days\u207b\u00b9]',xTitleFont:F(SERIF,12.6),
  yTitle:'CDFT amplitude',yTitleFont:F(SERIF,12.6),
  ds:[dotLine(pts(cdftFreq,cdftAmp),{cubicInterpolationMode:'monotone',borderWidth:1.3})]});
note('34y',107,574,11,{font:LIB});
note('PKS 0735+178',420,588,18.7,{left:1});
note('Historical 1906\u22122004',420,606,11.3,{left:1,bold:1});

/* ---------- panel 6: PDM ---------- */
const pdmRows=pdmLogT.map((v,i)=>[v,pdmTheta[i]]).concat(pdmLogTFine.map((v,i)=>[v,pdmThetaFine[i]])).filter(r=>r[1]!==undefined).sort((a,b)=>a[0]-b[0]);
panel({box:[694,550,1231,708],gl:53,gb:46,x:[2,50],y:[.4,1.1],xType:'logarithmic',
  xTicks:[10],xMin:[2,3,4,5,6,7,8,9,20,30,40,50],yTicks:seq(.4,1.1,.1),yMin:seq(.4,1.1,.01),yEdge:[-5,5],majLen:11,minLen:5,
  xFmt:dec(0),yFmt:dec(1),xFont:F(SERIF,13),yFont:F(SERIF,13),xPad:11,yPad:5,
  xTitle:'T [years]',xTitleFont:F(SERIF,14),yTitle:'PDM',yTitleFont:F(SERIF,13),
  ds:[dotLine(pdmRows.map(r=>({x:10**r[0],y:r[1]})),{borderWidth:1.15})]});
note('PKS 0735+178',741,665,18.4,{left:1});
note('Historical 1906\u22122004',731,681,11.7,{left:1});

/* ---------- panel 7: wavelet ---------- */
const poly=(a,col)=>({data:pairs(a.concat([a[0]])),showLine:true,fill:'shape',backgroundColor:col,borderColor:col,borderWidth:.6,pointRadius:0,tension:.2});
const flat=[];
flat.push(poly(wvField,wvLevelColors[0]));flat.push(poly(wvLevel1,wvLevelColors[1]));flat.push(poly(wvLevel2,wvLevelColors[2]));
wvDark.forEach(a=>flat.push(poly(a,wvLevelColors[3])));
[wvLevel3,wvLevel4,wvLevel5,wvLevel6,wvLevel7,wvLevel8,wvLevel9,wvLevel10].forEach((lv,i)=>lv.forEach(a=>flat.push(poly(a,wvLevelColors[4+i]))));
wvContours.forEach(a=>flat.push(dotLine(pairs(a),{borderColor:'#3a0c00',borderWidth:1,tension:.35})));
flat.push(dotLine(segs(wvHatch),{borderColor:'rgba(255,232,214,.85)',borderWidth:1.1}));
flat.push(dotLine(segs(wvCone),{borderColor:'rgba(255,232,214,.9)',borderWidth:1.1}));
panel({box:[95,785,602,1030],gl:60,gb:57,x:[1906,2004],y:[0,25],
  xTicks:seq(1920,2000,20),xMin:seq(1910,2000,5),yTicks:seq(0,25,5),yMin:seq(0,25,1),yEdge:[-7,7],majLen:10,minLen:5,tickW:1.1,
  xFmt:dec(0),yFmt:dec(0),xFont:F(SERIF,17.5),yFont:F(SERIF,17.5),xPad:12,yPad:6,
  xTitle:'Time [years]',xTitleFont:F(SERIF,18),yTitle:'Period [years]',yTitleFont:F(SERIF,18),
  ds:flat});
note('PKS 0735+178 \u2212 Wavelet\u2212Morlet Power Spectrum',348,773,15,{ls:.9});
note('1906\u22122004',536,837,18.5,{color:'#fff',bold:1});
const c90='#5a1200';
note('90%',338,846,16,{rot:8,color:c90});note('90%',275,946,16,{rot:8,color:c90});note('90%',295,995,16,{rot:10,color:c90});note('90%',444,1000,16,{rot:68,color:c90});

/* ---------- panel 8: GWFP ---------- */
panel({box:[688,878,1229,1047],gl:44,gb:42,x:[0,2.6],y:[0,95],
  xTicks:seq(0,2.5,.5),xMin:seq(0,2.6,.1),yTicks:seq(0,80,20),yMin:seq(0,95,5),yEdge:[-5,0],majLen:10,minLen:5,
  xFmt:dec(1),yFmt:dec(0),xFont:F(LIB,14.5),yFont:F(LIB,14.5),xPad:8,yPad:6,
  yTitle:'GWFP',yTitleFont:F(SERIF,12),
  ds:[dotLine([{x:0,y:gwFap},{x:2.6,y:gwFap}],{borderWidth:1.4,borderDash:[11,5],borderColor:'#444'}),
      dotLine(pts(gwSquareOmega,gwSquare),{cubicInterpolationMode:'monotone',borderWidth:1,borderDash:[1.5,3.5]}),
      dotLine(pts(gwOmega,gwHann),{cubicInterpolationMode:'monotone',borderWidth:1,borderDash:[7,2,2,2]}),
      dotLine(pts(gwOmega,gwBartlett),{cubicInterpolationMode:'monotone',borderWidth:1,borderDash:[7,3]}),
      dotLine(pts(gwOmega,gwWelch),{cubicInterpolationMode:'monotone',borderWidth:1.3})]});
note('\u03c9=<span class="frac"><span>2\u03c0</span><span>T</span></span>&nbsp;&nbsp; [years<sup>\u22121</sup>]',945,1079,13);
note('PKS 0735+178',741,898,18.7,{left:1});
note('Historical 1906\u22122004',741,913,11.7,{left:1});
[['7.87',854,992],['3.44',1063,991],['2.93',1140,951],['2.79',1159,968],['2.61',1194,904],['2.53',1210,967],['2.45',1227,949],['1% FAP',1198,1000]].forEach(n=>note(n[0],n[1],n[2],11.5,{font:LIB}));
[['Welch',992],['square',1006],['Bartlett',1018],['Hann',1031]].forEach(n=>note(n[0],729,n[1],9.5,{left:1,bold:1}));
[['none',995],['1.5 3',1007],['8 3',1021],['8 2 2 2',1033]].forEach(n=>{
  const s=document.createElementNS('http://www.w3.org/2000/svg','svg');s.setAttribute('class','ls');s.style.left='697px';s.style.top=(n[1]-1)+'px';
  s.innerHTML=`<line x1="0" y1="1" x2="28" y2="1" stroke="#111" stroke-width="1.1" stroke-dasharray="${n[0]}"/>`;page.appendChild(s);});
</script></body></html>
